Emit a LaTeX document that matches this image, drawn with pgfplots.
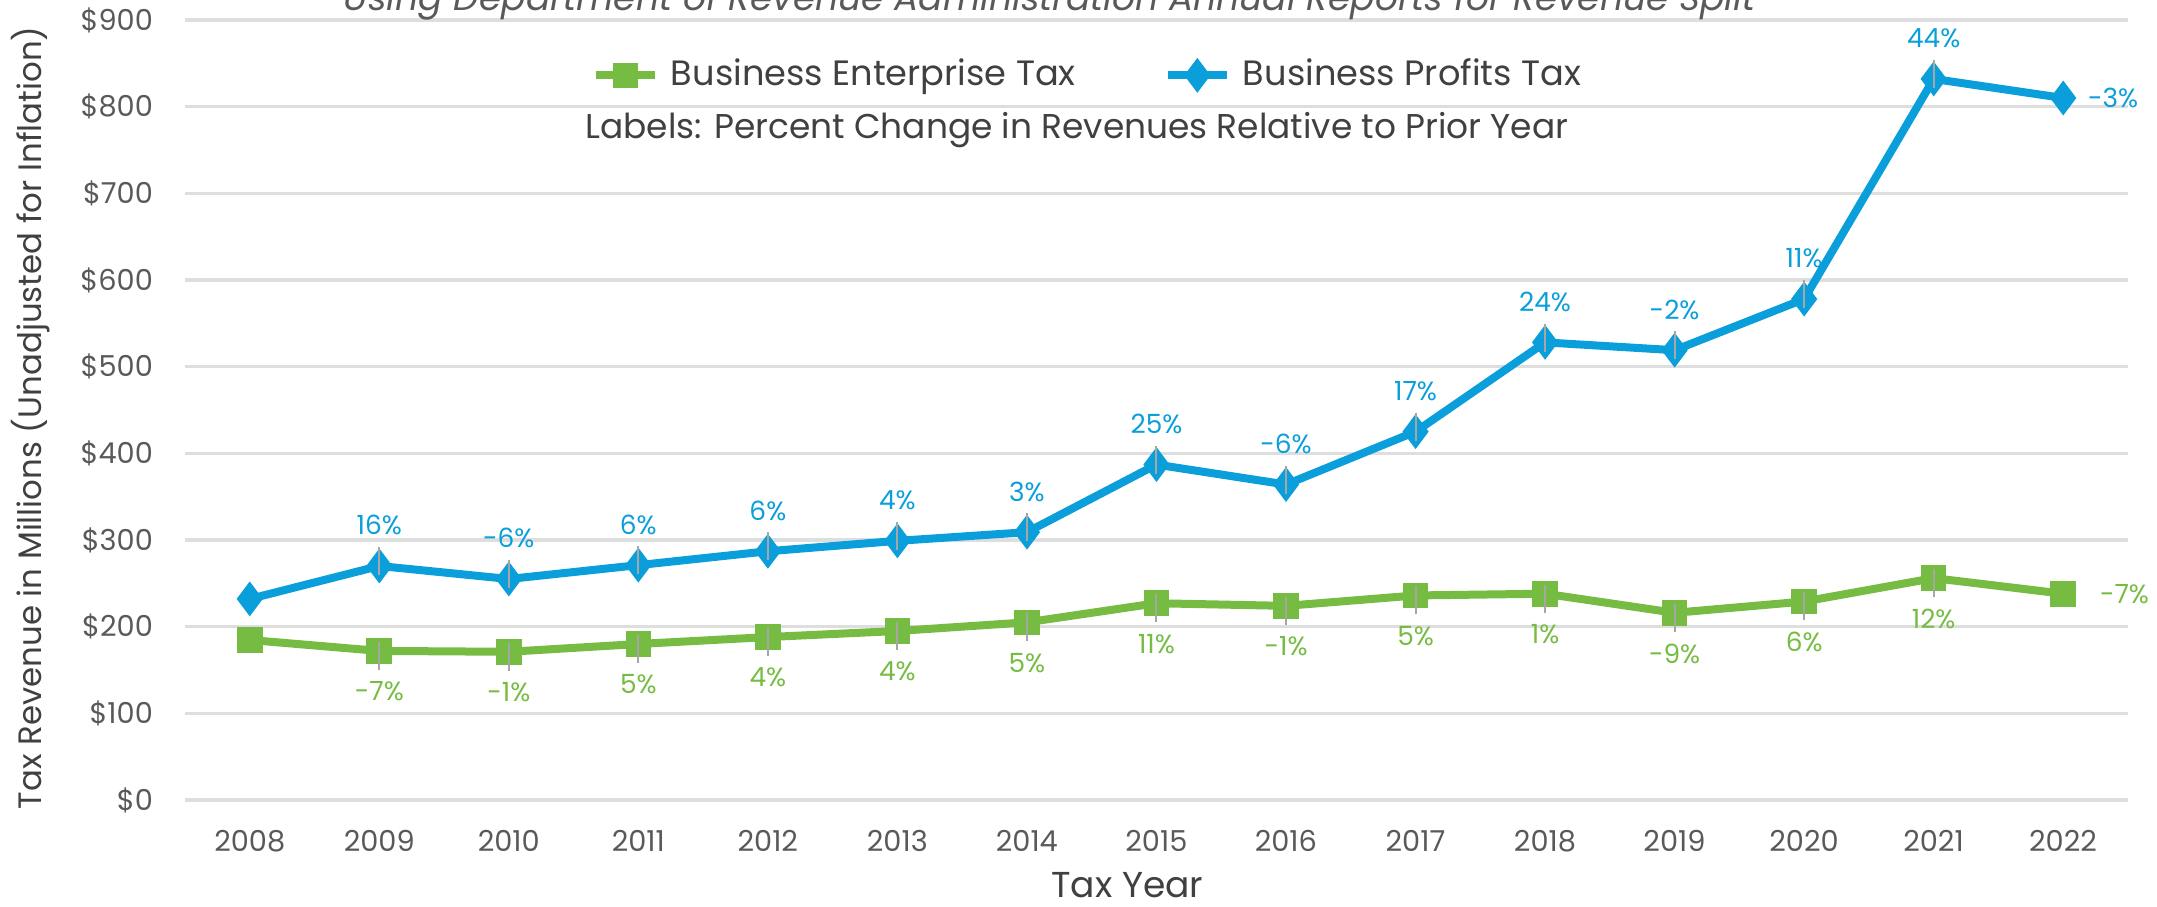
\documentclass[border=0pt]{standalone}
\usepackage{pgfplots}
\pgfplotsset{compat=1.18}
\usepackage{pgfplotstable}
\usepackage{fontspec}
\setmainfont{Poppins}

\definecolor{betgreen}{HTML}{76BC43}
\definecolor{bptblue}{HTML}{0A9FDB}
\definecolor{gridgray}{HTML}{DEDEDE}
\definecolor{txtgray}{HTML}{595959}
\definecolor{darktxt}{HTML}{404040}
\definecolor{leader}{HTML}{A6A6A6}

% revenue in $ millions, labels = % change vs prior year
\pgfplotstableread{
year bet   betlab bpt bptlab
2008 184.6 0      232 0
2009 172   -7     270 16
2010 171   -1     255 -6
2011 180   5      271 6
2012 188   4      287 6
2013 195   4      299 4
2014 205   5      309 3
2015 227   11     387 25
2016 224   -1     364 -6
2017 236   5      425 17
2018 238   1      528 24
2019 216   -9     519 -2
2020 229   6      578 11
2021 256   12     832 44
2022 238   -7     810 -3
}\revtable

\begin{document}
\begin{tikzpicture}
\useasboundingbox (-46.25pt,-26.75pt) rectangle (493pt,200pt);
\clip (-46.25pt,-26.75pt) rectangle (493pt,200pt);
\begin{axis}[
    at={(0,0)}, anchor=south west,
    scale only axis,
    width=485.75pt, height=195pt,
    xmin=2007.5, xmax=2022.5,
    ymin=0, ymax=900,
    xtick={2008,...,2022},
    ytick={0,100,...,900},
    yticklabels={\$0,\$100,\$200,\$300,\$400,\$500,\$600,\$700,\$800,\$900},
    /pgf/number format/.cd, 1000 sep={}, assume math mode=true,
    /pgfplots/.cd,
    axis line style={draw=none},
    major tick length=0pt,
    ymajorgrids,
    grid style={gridgray, line width=0.8pt},
    clip=false,
    tick label style={font=\fontsize{7.2}{8}\selectfont, text=txtgray},
    xticklabel style={yshift=-4pt},
    yticklabel style={xshift=-4.5pt},
    xlabel={Tax Year},
    ylabel={Tax Revenue in Millions (Unadjusted for Inflation)},
    every axis x label/.style={at={(axis description cs:0.485,-0.109)}, anchor=center,
        font=\fontsize{9}{10}\selectfont, text=darktxt},
    every axis y label/.style={at={(axis description cs:-0.0797,0.49)}, rotate=90, anchor=center,
        font=\fontsize{8.1}{9}\selectfont, text=darktxt},
    legend style={at={(0.466,0.929)}, anchor=center, draw=none, fill=none,
        legend columns=-1, font=\fontsize{8.8}{10}\selectfont, text=darktxt,
        inner sep=0pt,
        /tikz/every odd column/.append style={column sep=1pt},
        /tikz/every even column/.append style={column sep=20pt}},
    legend image code/.code={
        \draw[mark repeat=2, mark phase=2] plot coordinates {(0cm,0cm) (0.26cm,0cm) (0.52cm,0cm)};},
    legend cell align=left,
]

\addplot[betgreen, line width=2pt, mark=square*, mark size=2.2pt,
    mark options={solid}] table[x=year, y=bet] {\revtable};
\addlegendentry{Business Enterprise Tax}

\addplot[bptblue, line width=2pt, mark=diamond*, mark size=2.7pt,
    mark options={solid}] table[x=year, y=bpt] {\revtable};
\addlegendentry{Business Profits Tax}

% percent change labels with leader lines
\addplot[forget plot, draw=none, mark=none,
    restrict x to domain=2009:2021,
    point meta=explicit symbolic,
    nodes near coords={\shortstack{{\color{leader}\rule{0.5pt}{7pt}}\\\pgfplotspointmeta\%}},
    every node near coord/.append style={anchor=north, yshift=2.5pt, inner sep=0pt,
        font=\fontsize{6.6}{7}\selectfont, text=betgreen}]
    table[x=year, y=bet, meta=betlab] {\revtable};

\addplot[forget plot, draw=none, mark=none,
    restrict x to domain=2009:2021,
    point meta=explicit symbolic,
    nodes near coords={\shortstack{\pgfplotspointmeta\%\\{\color{leader}\rule{0.5pt}{7pt}}}},
    every node near coord/.append style={anchor=south, yshift=-2.5pt, inner sep=0pt,
        font=\fontsize{6.6}{7}\selectfont, text=bptblue}]
    table[x=year, y=bpt, meta=bptlab] {\revtable};

\addplot[forget plot, draw=none, mark=none,
    restrict x to domain=2022:2022,
    point meta=explicit symbolic,
    nodes near coords={\pgfplotspointmeta\%},
    every node near coord/.append style={anchor=west, xshift=9pt, inner sep=0pt,
        font=\fontsize{6.6}{7}\selectfont, text=betgreen}]
    table[x=year, y=bet, meta=betlab] {\revtable};

\addplot[forget plot, draw=none, mark=none,
    restrict x to domain=2022:2022,
    point meta=explicit symbolic,
    nodes near coords={\pgfplotspointmeta\%},
    every node near coord/.append style={anchor=west, xshift=6pt, inner sep=0pt,
        font=\fontsize{6.6}{7}\selectfont, text=bptblue}]
    table[x=year, y=bpt, meta=bptlab] {\revtable};

\node[anchor=center, font=\fontsize{8.6}{10}\selectfont, text=darktxt]
    at (axis description cs:0.459,0.859) {Labels: Percent Change in Revenues Relative to Prior Year};
\node[anchor=base, font=\fontsize{9}{10}\selectfont\itshape, text=txtgray]
    at (axis description cs:0.445,1) [yshift=2.5pt]
    {Using Department of Revenue Administration Annual Reports for Revenue Split};
\end{axis}
\end{tikzpicture}
\end{document}
